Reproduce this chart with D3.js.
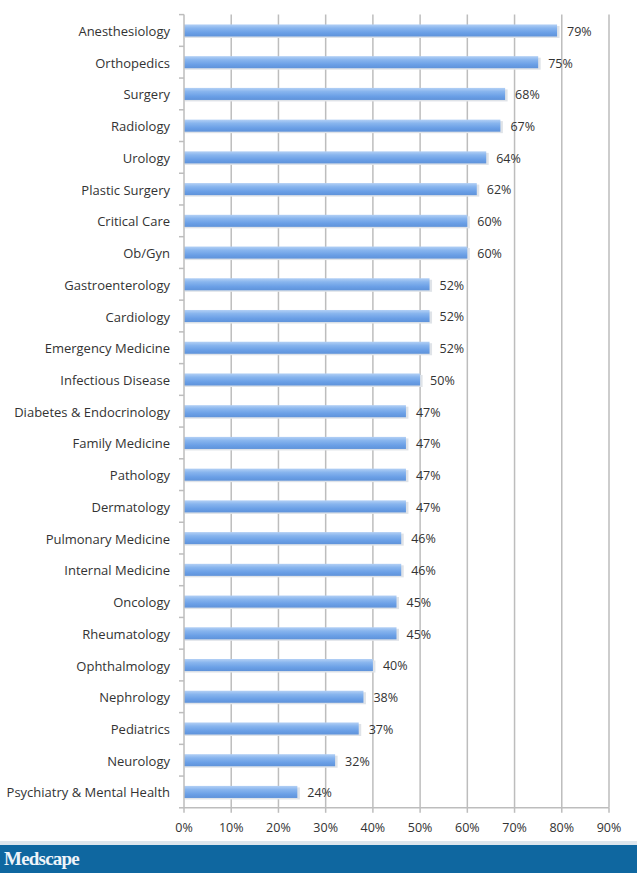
<!DOCTYPE html>
<html><head><meta charset="utf-8">
<script src="https://cdn.jsdelivr.net/npm/d3@7"></script>
<style>body{margin:0;background:#fff}svg{display:block}</style>
</head><body>
<script>
const categories = ["Anesthesiology","Orthopedics","Surgery","Radiology","Urology","Plastic Surgery","Critical Care","Ob/Gyn","Gastroenterology","Cardiology","Emergency Medicine","Infectious Disease","Diabetes & Endocrinology","Family Medicine","Pathology","Dermatology","Pulmonary Medicine","Internal Medicine","Oncology","Rheumatology","Ophthalmology","Nephrology","Pediatrics","Neurology","Psychiatry & Mental Health"];
const values = [79,75,68,67,64,62,60,60,52,52,52,50,47,47,47,47,46,46,45,45,40,38,37,32,24];
const xTicks = [0,10,20,30,40,50,60,70,80,90];

(function(){
const W = 637, H = 873;
const svg = d3.select("body").append("svg").attr("width", W).attr("height", H);
const pL = 184, pR = 609, pT = 14.6, pB = 807.8;
const x = d3.scaleLinear().domain([0, 90]).range([pL, pR]);
const y = d3.scaleBand().domain(categories).range([pT, pB]).paddingInner(0.62).paddingOuter(0.31);
const font = "Open Sans, sans-serif";
const grid = "#bdbdbd";

const defs = svg.append("defs");
const g = defs.append("linearGradient").attr("id","bar").attr("x1",0).attr("x2",0).attr("y1",0).attr("y2",1);
g.append("stop").attr("offset","0%").attr("stop-color","#b3d0f5");
g.append("stop").attr("offset","30%").attr("stop-color","#88b5ee");
g.append("stop").attr("offset","70%").attr("stop-color","#6a9fe6");
g.append("stop").attr("offset","100%").attr("stop-color","#5f93da");

svg.append("g").selectAll("line").data(xTicks.slice(1)).join("line")
  .attr("x1", d => x(d)).attr("x2", d => x(d)).attr("y1", pT).attr("y2", pB)
  .attr("stroke", grid).attr("stroke-width", 1.5);

svg.append("g").selectAll("rect").data(values).join("rect")
  .attr("x", pL + 1).attr("y", (d,i) => y(categories[i]) + 1.5)
  .attr("width", d => x(d) - pL + 1.5).attr("height", y.bandwidth())
  .attr("fill", "#dfe3e8");
svg.append("g").selectAll("rect").data(values).join("rect")
  .attr("x", pL).attr("y", (d,i) => y(categories[i]))
  .attr("width", d => x(d) - pL).attr("height", y.bandwidth())
  .attr("fill", "url(#bar)");

svg.append("g").selectAll("text").data(values).join("text")
  .attr("x", d => x(d) + 10).attr("y", (d,i) => y(categories[i]) + y.bandwidth()/2 + 1)
  .attr("dy", "0.35em").text(d => d + "%")
  .attr("font-family", font).attr("font-size", 12.5).attr("fill", "#333");

const yAxis = svg.append("g");
yAxis.append("line").attr("x1", pL).attr("x2", pL).attr("y1", pT).attr("y2", pB).attr("stroke", grid).attr("stroke-width", 1.5);
const step = y.step();
yAxis.selectAll("line.t").data(d3.range(categories.length + 1)).join("line").attr("class","t")
  .attr("x1", pL - 5).attr("x2", pL).attr("y1", i => pT + i*step).attr("y2", i => pT + i*step)
  .attr("stroke", grid).attr("stroke-width", 1.5);
yAxis.selectAll("text").data(categories).join("text")
  .attr("x", 170).attr("y", d => y(d) + y.bandwidth()/2 + 1).attr("dy","0.35em")
  .attr("text-anchor","end").text(d => d)
  .attr("font-family", font).attr("font-size", 13).attr("fill", "#333");

const xAxis = svg.append("g");
xAxis.append("line").attr("x1", pL).attr("x2", pR).attr("y1", pB).attr("y2", pB).attr("stroke", grid).attr("stroke-width", 1.5);
xAxis.selectAll("line.t").data(xTicks).join("line").attr("class","t")
  .attr("x1", d => x(d)).attr("x2", d => x(d)).attr("y1", pB).attr("y2", pB + 5)
  .attr("stroke", grid).attr("stroke-width", 1.5);
xAxis.selectAll("text").data(xTicks).join("text")
  .attr("x", d => x(d)).attr("y", 828).attr("dy","0.35em").attr("text-anchor","middle")
  .text(d => d + "%")
  .attr("font-family", font).attr("font-size", 12.5).attr("fill", "#333");

svg.append("rect").attr("x",0).attr("y",841).attr("width",W).attr("height",5).attr("fill","#dde6ed");
svg.append("rect").attr("x",0).attr("y",845).attr("width",W).attr("height",H-845).attr("fill","#0f67a0");
svg.append("text").attr("x",4).attr("y",865).text("Medscape")
  .attr("font-family","Liberation Serif, serif").attr("font-weight","bold").attr("font-size",19).attr("fill","#eef4f9").attr("letter-spacing","-0.8");
})();
</script>
</body></html>
